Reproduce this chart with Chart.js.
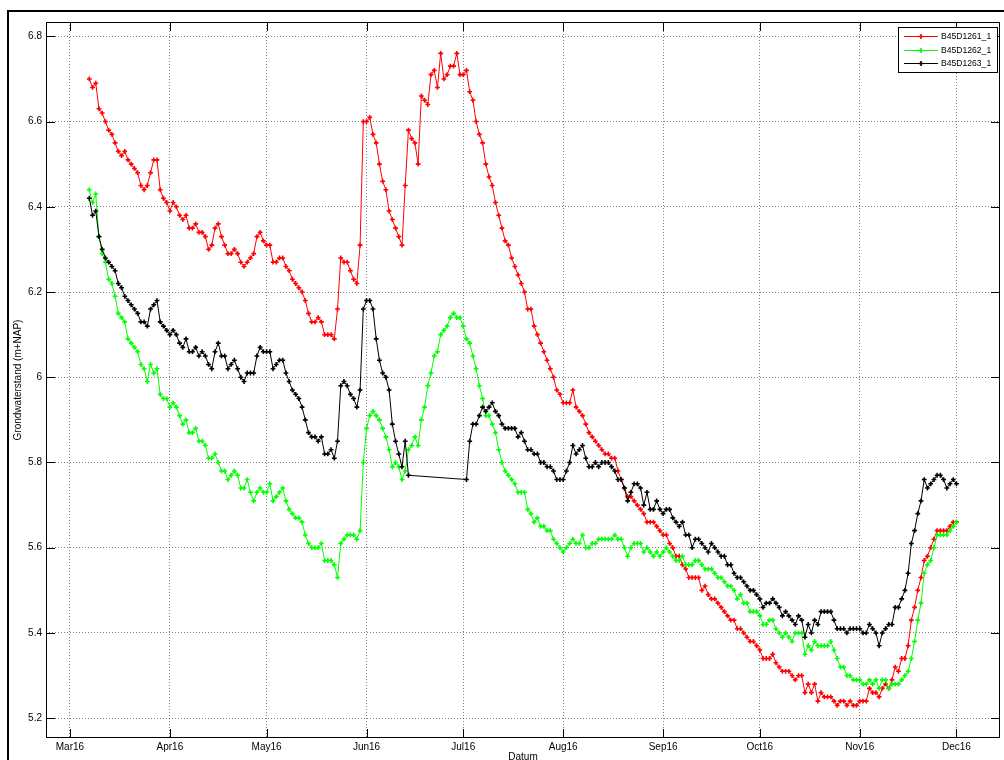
<!DOCTYPE html>
<html>
<head>
<meta charset="utf-8">
<script src="https://cdn.jsdelivr.net/npm/chart.js@4.4.1/dist/chart.umd.min.js"></script>
<style>
  html, body { margin: 0; padding: 0; background: #ffffff; }
  #wrap { position: relative; width: 1004px; height: 760px; overflow: hidden; background: #ffffff; }
  canvas { display: block; }
</style>
</head>
<body>
<div id="wrap"><canvas id="c" width="1004" height="760"></canvas></div>
<script>
// ---------------- DATA ----------------
const seriesNames = ['B45D1261_1', 'B45D1262_1', 'B45D1263_1'];
// day offset (from 1 March 2016) of the first daily value: 7 March 2016
const firstDay = 6;

const red = [
  6.70, 6.68, 6.69, 6.63, 6.62, 6.60, 6.58, 6.57, 6.55, 6.53,
  6.52, 6.53, 6.51, 6.50, 6.49, 6.48, 6.45, 6.44, 6.45, 6.48,
  6.51, 6.51, 6.44, 6.42, 6.41, 6.39, 6.41, 6.40, 6.38, 6.37,
  6.38, 6.35, 6.35, 6.36, 6.34, 6.34, 6.33, 6.30, 6.31, 6.35,
  6.36, 6.33, 6.31, 6.29, 6.29, 6.30, 6.29, 6.27, 6.26, 6.27,
  6.28, 6.29, 6.33, 6.34, 6.32, 6.31, 6.31, 6.27, 6.27, 6.28,
  6.28, 6.26, 6.25, 6.23, 6.22, 6.21, 6.20, 6.18, 6.15, 6.13,
  6.13, 6.14, 6.13, 6.10, 6.10, 6.10, 6.09, 6.16, 6.28, 6.27,
  6.27, 6.25, 6.23, 6.22, 6.31, 6.60, 6.60, 6.61, 6.57, 6.55,
  6.50, 6.46, 6.44, 6.39, 6.37, 6.35, 6.33, 6.31, 6.45, 6.58,
  6.56, 6.55, 6.50, 6.66, 6.65, 6.64, 6.71, 6.72, 6.68, 6.76,
  6.70, 6.71, 6.73, 6.73, 6.76, 6.71, 6.71, 6.72, 6.67, 6.65,
  6.60, 6.57, 6.55, 6.50, 6.47, 6.45, 6.41, 6.38, 6.35, 6.32,
  6.31, 6.28, 6.26, 6.24, 6.22, 6.20, 6.16, 6.16, 6.12, 6.10,
  6.08, 6.06, 6.04, 6.02, 6.00, 5.97, 5.96, 5.94, 5.94, 5.94,
  5.97, 5.93, 5.92, 5.91, 5.89, 5.87, 5.86, 5.85, 5.84, 5.83,
  5.82, 5.82, 5.81, 5.81, 5.78, 5.76, 5.74, 5.72, 5.72, 5.71,
  5.70, 5.69, 5.68, 5.66, 5.66, 5.66, 5.65, 5.64, 5.63, 5.63,
  5.61, 5.60, 5.58, 5.58, 5.56, 5.55, 5.53, 5.53, 5.53, 5.53,
  5.50, 5.51, 5.49, 5.48, 5.48, 5.47, 5.46, 5.45, 5.44, 5.43,
  5.43, 5.41, 5.41, 5.40, 5.39, 5.38, 5.38, 5.37, 5.36, 5.34,
  5.34, 5.34, 5.35, 5.33, 5.32, 5.31, 5.31, 5.31, 5.30, 5.29,
  5.30, 5.30, 5.26, 5.28, 5.26, 5.28, 5.24, 5.26, 5.25, 5.25,
  5.25, 5.24, 5.23, 5.24, 5.24, 5.23, 5.24, 5.23, 5.23, 5.24,
  5.24, 5.24, 5.27, 5.26, 5.26, 5.25, 5.27, 5.28, 5.27, 5.29,
  5.32, 5.31, 5.34, 5.34, 5.37, 5.43, 5.46, 5.50, 5.53, 5.57,
  5.58, 5.60, 5.62, 5.64, 5.64, 5.64, 5.64, 5.65, 5.66, 5.66
];

const green = [
  6.44, 6.41, 6.43, 6.33, 6.29, 6.27, 6.23, 6.22, 6.19, 6.15,
  6.14, 6.13, 6.09, 6.08, 6.07, 6.06, 6.03, 6.02, 5.99, 6.03,
  6.01, 6.02, 5.96, 5.95, 5.95, 5.93, 5.94, 5.93, 5.91, 5.89,
  5.90, 5.87, 5.87, 5.88, 5.85, 5.85, 5.84, 5.81, 5.81, 5.82,
  5.80, 5.78, 5.78, 5.76, 5.77, 5.78, 5.77, 5.74, 5.74, 5.76,
  5.73, 5.71, 5.73, 5.74, 5.73, 5.73, 5.75, 5.71, 5.72, 5.73,
  5.74, 5.71, 5.69, 5.68, 5.67, 5.67, 5.66, 5.63, 5.61, 5.60,
  5.60, 5.60, 5.61, 5.57, 5.57, 5.57, 5.56, 5.53, 5.61, 5.62,
  5.63, 5.63, 5.63, 5.62, 5.64, 5.80, 5.88, 5.91, 5.92, 5.91,
  5.90, 5.88, 5.86, 5.83, 5.79, 5.80, 5.79, 5.76, 5.78, 5.83,
  5.84, 5.86, 5.84, 5.90, 5.93, 5.98, 6.01, 6.05, 6.06, 6.10,
  6.11, 6.12, 6.14, 6.15, 6.14, 6.14, 6.12, 6.09, 6.08, 6.05,
  6.02, 5.98, 5.95, 5.91, 5.91, 5.89, 5.87, 5.83, 5.80, 5.78,
  5.77, 5.76, 5.75, 5.73, 5.73, 5.73, 5.69, 5.68, 5.66, 5.67,
  5.65, 5.65, 5.64, 5.64, 5.62, 5.61, 5.60, 5.59, 5.60, 5.61,
  5.62, 5.61, 5.61, 5.63, 5.60, 5.60, 5.61, 5.61, 5.62, 5.62,
  5.62, 5.62, 5.62, 5.63, 5.62, 5.62, 5.60, 5.58, 5.60, 5.61,
  5.61, 5.61, 5.59, 5.60, 5.59, 5.58, 5.59, 5.58, 5.59, 5.60,
  5.59, 5.58, 5.57, 5.57, 5.58, 5.56, 5.56, 5.56, 5.57, 5.57,
  5.56, 5.55, 5.55, 5.55, 5.54, 5.53, 5.53, 5.52, 5.51, 5.51,
  5.50, 5.48, 5.49, 5.47, 5.47, 5.45, 5.45, 5.45, 5.44, 5.42,
  5.42, 5.43, 5.43, 5.41, 5.40, 5.39, 5.40, 5.39, 5.38, 5.40,
  5.40, 5.40, 5.35, 5.37, 5.36, 5.38, 5.37, 5.37, 5.37, 5.37,
  5.38, 5.36, 5.34, 5.32, 5.32, 5.30, 5.30, 5.29, 5.29, 5.29,
  5.28, 5.28, 5.29, 5.28, 5.29, 5.27, 5.29, 5.29, 5.27, 5.28,
  5.28, 5.28, 5.29, 5.30, 5.31, 5.34, 5.38, 5.43, 5.47, 5.54,
  5.56, 5.57, 5.60, 5.63, 5.63, 5.63, 5.63, 5.64, 5.65, 5.66
];

// null = no measurement (line is continued across the gap, as in the original)
const black = [
  6.42, 6.38, 6.39, 6.33, 6.30, 6.28, 6.27, 6.26, 6.25, 6.22,
  6.21, 6.19, 6.18, 6.17, 6.16, 6.15, 6.13, 6.13, 6.12, 6.16,
  6.17, 6.18, 6.13, 6.12, 6.11, 6.10, 6.11, 6.10, 6.08, 6.07,
  6.09, 6.06, 6.06, 6.07, 6.05, 6.06, 6.05, 6.03, 6.02, 6.06,
  6.08, 6.05, 6.05, 6.02, 6.03, 6.04, 6.02, 6.00, 5.99, 6.01,
  6.01, 6.01, 6.05, 6.07, 6.06, 6.06, 6.06, 6.02, 6.03, 6.04,
  6.04, 6.01, 5.99, 5.97, 5.96, 5.95, 5.93, 5.90, 5.87, 5.86,
  5.86, 5.85, 5.86, 5.82, 5.82, 5.83, 5.81, 5.85, 5.98, 5.99,
  5.98, 5.96, 5.95, 5.93, 5.97, 6.16, 6.18, 6.18, 6.16, 6.09,
  6.04, 6.01, 6.00, 5.97, 5.89, 5.85, 5.82, 5.79, 5.85, 5.77,
  null, null, null, null, null, null, null, null, null, null,
  null, null, null, null, null, null, null, 5.76, 5.85, 5.89,
  5.89, 5.91, 5.93, 5.92, 5.93, 5.94, 5.92, 5.91, 5.89, 5.88,
  5.88, 5.88, 5.88, 5.86, 5.87, 5.85, 5.83, 5.83, 5.82, 5.82,
  5.80, 5.80, 5.79, 5.79, 5.78, 5.76, 5.76, 5.76, 5.78, 5.80,
  5.84, 5.82, 5.83, 5.84, 5.81, 5.79, 5.79, 5.80, 5.79, 5.80,
  5.80, 5.80, 5.79, 5.78, 5.76, 5.76, 5.74, 5.71, 5.73, 5.75,
  5.75, 5.74, 5.70, 5.73, 5.69, 5.69, 5.71, 5.69, 5.68, 5.69,
  5.69, 5.67, 5.66, 5.65, 5.66, 5.63, 5.63, 5.60, 5.62, 5.62,
  5.61, 5.60, 5.59, 5.61, 5.60, 5.59, 5.58, 5.58, 5.56, 5.56,
  5.54, 5.53, 5.53, 5.52, 5.51, 5.50, 5.50, 5.49, 5.48, 5.46,
  5.47, 5.47, 5.48, 5.47, 5.46, 5.44, 5.45, 5.44, 5.43, 5.42,
  5.44, 5.43, 5.39, 5.42, 5.40, 5.43, 5.42, 5.45, 5.45, 5.45,
  5.45, 5.43, 5.41, 5.41, 5.41, 5.40, 5.41, 5.41, 5.41, 5.41,
  5.40, 5.40, 5.42, 5.41, 5.40, 5.37, 5.40, 5.41, 5.42, 5.42,
  5.46, 5.46, 5.48, 5.50, 5.54, 5.61, 5.64, 5.68, 5.71, 5.76,
  5.74, 5.75, 5.76, 5.77, 5.77, 5.76, 5.74, 5.75, 5.76, 5.75
];

// x tick positions: days after 1 March 2016 of each month start
const monthTickDays   = [0, 31, 61, 92, 122, 153, 184, 214, 245, 275];
const monthTickLabels = ['Mar16', 'Apr16', 'May16', 'Jun16', 'Jul16', 'Aug16', 'Sep16', 'Oct16', 'Nov16', 'Dec16'];
const yTickValues = [5.2, 5.4, 5.6, 5.8, 6.0, 6.2, 6.4, 6.6, 6.8];
const yTickLabels = ['5.2', '5.4', '5.6', '5.8', '6', '6.2', '6.4', '6.6', '6.8'];
const xTitle = 'Datum';
const yTitle = 'Grondwaterstand (m+NAP)';

// ---------------- CHART ----------------
const FONT = "'Liberation Sans', Arial, Helvetica, sans-serif";
Chart.defaults.font.family = FONT;
const colors = ['#ff0000', '#00ff00', '#000000'];

const toPoints = arr => arr.map((v, i) => ({ x: firstDay + i, y: v }));

function ds(i, arr, order) {
  return {
    label: seriesNames[i],
    data: toPoints(arr),
    borderColor: colors[i],
    backgroundColor: colors[i],
    borderWidth: 1,
    pointStyle: 'cross',
    pointRadius: 2.4,
    pointBorderWidth: 1.6,
    pointBorderColor: colors[i],
    pointBackgroundColor: colors[i],
    pointHoverRadius: 2.4,
    tension: 0,
    spanGaps: true,
    fill: false,
    order: order
  };
}

const gridColor = 'rgba(0,0,0,0.5)';

const matlabFrame = {
  id: 'matlabFrame',
  afterDraw(chart) {
    const c = chart.ctx;
    const a = chart.chartArea;
    const xs = chart.scales.x, ys = chart.scales.y;
    c.save();
    // axes box
    c.strokeStyle = '#000';
    c.lineWidth = 1;
    c.strokeRect(Math.round(a.left) + 0.5, Math.round(a.top) + 0.5,
                 Math.round(a.right - a.left) - 1, Math.round(a.bottom - a.top) - 1);
    // inward ticks
    const tl = 9;
    c.beginPath();
    monthTickDays.forEach(d => {
      const px = Math.round(xs.getPixelForValue(d)) + 0.5;
      c.moveTo(px, a.bottom); c.lineTo(px, a.bottom - tl);
      c.moveTo(px, a.top); c.lineTo(px, a.top + tl);
    });
    yTickValues.forEach(v => {
      const py = Math.round(ys.getPixelForValue(v)) + 0.5;
      c.moveTo(a.left, py); c.lineTo(a.left + tl, py);
      c.moveTo(a.right, py); c.lineTo(a.right - tl, py);
    });
    c.stroke();

    // axis titles
    c.fillStyle = '#000';
    c.font = '10px ' + FONT;
    c.textAlign = 'center';
    c.textBaseline = 'top';
    c.fillText(xTitle, (a.left + a.right) / 2, 752);
    c.save();
    c.translate(18, (a.top + a.bottom) / 2);
    c.rotate(-Math.PI / 2);
    c.textBaseline = 'middle';
    c.fillText(yTitle, 0, 0);
    c.restore();

    // legend box
    const lx = 898, ly = 27, lw = 99, lh = 45;
    c.fillStyle = '#fff';
    c.fillRect(lx, ly, lw, lh);
    c.strokeStyle = '#000';
    c.lineWidth = 1;
    c.strokeRect(lx + 0.5, ly + 0.5, lw, lh);
    const rows = [36.5, 50.5, 63.5];
    c.font = '8.6px ' + FONT;
    c.textAlign = 'left';
    c.textBaseline = 'middle';
    seriesNames.forEach((name, i) => {
      const y = rows[i];
      c.strokeStyle = colors[i];
      c.lineWidth = 1;
      c.beginPath(); c.moveTo(904, y); c.lineTo(938, y); c.stroke();
      c.lineWidth = 1.6;
      c.beginPath();
      c.moveTo(921 - 2.4, y); c.lineTo(921 + 2.4, y);
      c.moveTo(921, y - 2.4); c.lineTo(921, y + 2.4);
      c.stroke();
      c.fillStyle = '#000';
      c.fillText(name, 941, y + 0.5);
    });

    // outer figure frame (cropped window border)
    c.fillStyle = '#000';
    c.fillRect(7, 10, 1004 - 7, 2);
    c.fillRect(7, 10, 2, 760 - 10);
    c.restore();
  }
};

new Chart(document.getElementById('c').getContext('2d'), {
  type: 'line',
  data: {
    datasets: [ds(0, red, 3), ds(1, green, 2), ds(2, black, 1)]
  },
  options: {
    responsive: false,
    animation: false,
    devicePixelRatio: 1,
    events: [],
    layout: { padding: { top: 22, right: 2, left: 0, bottom: 0 } },
    plugins: { legend: { display: false }, tooltip: { enabled: false }, title: { display: false } },
    scales: {
      x: {
        type: 'linear',
        min: -7.43,
        max: 288.5,
        afterBuildTicks: s => { s.ticks = monthTickDays.map(v => ({ value: v })); },
        afterFit: s => { s.height = 22; },
        ticks: {
          autoSkip: false, maxRotation: 0, minRotation: 0, padding: 3,
          color: '#000', font: { size: 10, family: FONT },
          callback: (v, i) => monthTickLabels[i]
        },
        grid: { drawTicks: false, color: gridColor, lineWidth: 1, borderDash: [1, 2] },
        border: { display: false, dash: [1, 2] }
      },
      y: {
        type: 'linear',
        min: 5.1535,
        max: 6.8336,
        afterBuildTicks: s => { s.ticks = yTickValues.map(v => ({ value: v })); },
        afterFit: s => { s.width = 46; },
        ticks: {
          padding: 4, color: '#000', font: { size: 10, family: FONT },
          callback: (v, i) => yTickLabels[i]
        },
        grid: { drawTicks: false, color: gridColor, lineWidth: 1, borderDash: [1, 2] },
        border: { display: false, dash: [1, 2] }
      }
    }
  },
  plugins: [matlabFrame]
});
</script>
</body>
</html>
